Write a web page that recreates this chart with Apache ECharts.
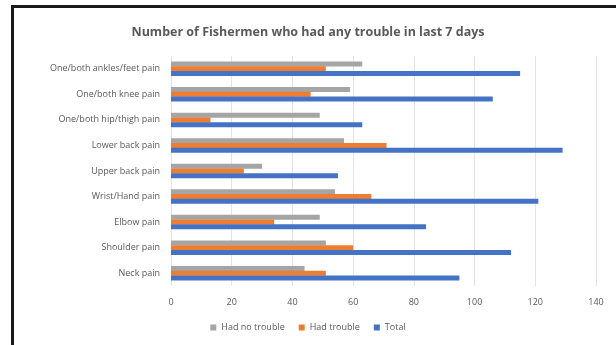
<!DOCTYPE html>
<html><head><meta charset="utf-8">
<script src="https://cdn.jsdelivr.net/npm/echarts@6/dist/echarts.min.js"></script>
<style>html,body{margin:0;padding:0;background:#fff}#c{width:616px;height:345px}</style>
</head><body><div id="c"></div>
<script>
const categories = ["One/both ankles/feet pain","One/both knee pain","One/both hip/thigh pain","Lower back pain","Upper back pain","Wrist/Hand pain","Elbow pain","Shoulder pain","Neck pain"];
const hadNoTrouble = [63, 59, 49, 57, 30, 54, 49, 51, 44];
const hadTrouble = [51, 46, 13, 71, 24, 66, 34, 60, 51];
const total = [115, 106, 63, 129, 55, 121, 84, 112, 95];
const xTicks = [0,20,40,60,80,100,120,140];

const chart = echarts.init(document.getElementById('c'));
const txt = '#595959';
chart.setOption({
  animation:false,
  backgroundColor:'#fff',
  title:{text:'Number of Fishermen who had any trouble in last 7 days',left:'center',top:21,
    textStyle:{fontFamily:'Open Sans',fontSize:12.5,fontWeight:'bold',color:txt}},
  grid:{left:171,right:20,top:56,bottom:59},
  legend:{bottom:8,left:'center',itemWidth:6,itemHeight:6,itemGap:14,icon:'rect',
    textStyle:{fontFamily:'Open Sans',fontSize:9,color:txt}},
  xAxis:{type:'value',min:0,max:140,interval:20,
    axisLabel:{fontFamily:'Open Sans',fontSize:9,color:txt,margin:12,formatter:v=>xTicks.includes(v)?String(v):''},
    splitLine:{lineStyle:{color:'#e4e4e4'}},axisLine:{show:false},axisTick:{show:false}},
  yAxis:{type:'category',data:categories,inverse:true,
    axisLabel:{fontFamily:'Open Sans',fontSize:9,color:txt,margin:11},
    axisLine:{show:false},axisTick:{show:false}},
  series:[
    {name:'Had no trouble',type:'bar',data:hadNoTrouble,itemStyle:{color:'#A5A5A5'},barWidth:5,barGap:'-5%'},
    {name:'Had trouble',type:'bar',data:hadTrouble,itemStyle:{color:'#ED7D31'},barWidth:5,barGap:'-5%'},
    {name:'Total',type:'bar',data:total,itemStyle:{color:'#4472C4'},barWidth:5,barGap:'-5%'}
  ],
  graphic:[
    {type:'rect',shape:{x:12,y:5,width:604,height:3},style:{fill:'#1a1a1a'},z:100},
    {type:'rect',shape:{x:11,y:5,width:3,height:340},style:{fill:'#1a1a1a'},z:100}
  ]
});
</script></body></html>
